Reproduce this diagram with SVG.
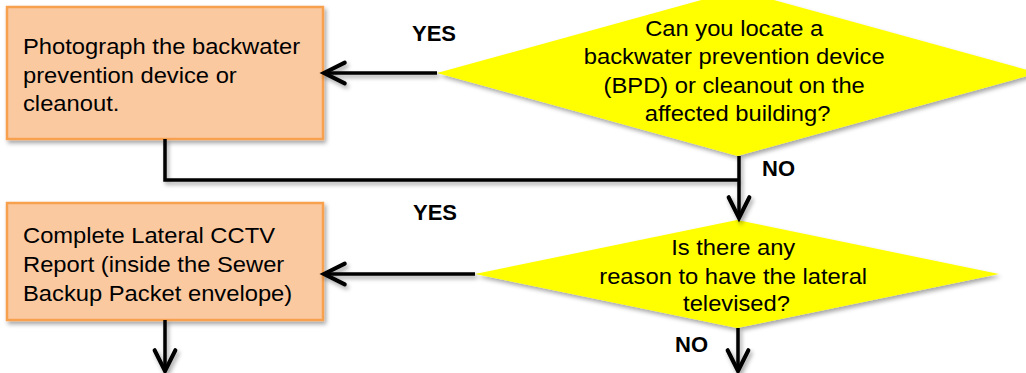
<svg xmlns="http://www.w3.org/2000/svg" width="1026" height="373" viewBox="0 0 1026 373">
  <defs>
    <filter id="shadow" x="-10%" y="-10%" width="130%" height="140%">
      <feDropShadow dx="2" dy="3" stdDeviation="2" flood-color="#000" flood-opacity="0.35"/>
    </filter>
    <marker id="arrow" markerUnits="userSpaceOnUse" markerWidth="30" markerHeight="30" viewBox="-22 -13 26 26" refX="0" refY="0" orient="auto">
      <path d="M -18 -9 L 0 0 L -18 9" fill="none" stroke="#000" stroke-width="3.5" stroke-linecap="round" stroke-linejoin="miter"/>
    </marker>
    <style>
      .box { fill: #FBC9A0; stroke: #F7A150; stroke-width: 2.5; }
      .dec { fill: #FFFF00; stroke: none; }
      .txt { font-family: "Liberation Sans", Arial, sans-serif; font-size: 22px; fill: #000; }
      .mid { text-anchor: middle; }
      .lbl { font-family: "Liberation Sans", Arial, sans-serif; font-size: 22px; font-weight: bold; fill: #000; }
      .con { fill: none; stroke: #000; stroke-width: 3.5; stroke-linejoin: miter; }
    </style>
  </defs>

  <!-- process: photograph -->
  <g id="photo">
    <rect class="box" x="7" y="7" width="316" height="132" filter="url(#shadow)"/>
    <text class="txt" transform="translate(23 0) scale(1.08 1)">
      <tspan x="0" y="54.5">Photograph the backwater</tspan>
      <tspan x="0" y="83">prevention device or</tspan>
      <tspan x="0" y="111.5">cleanout.</tspan>
    </text>
  </g>

  <!-- decision: BPD / cleanout -->
  <g id="locate">
    <polygon class="dec" points="737.5,-10 1038,73 737.5,156 437,73" filter="url(#shadow)"/>
    <text class="txt mid" transform="translate(737.5 0) scale(1.08 1)">
      <tspan x="0" y="36">Can you locate a</tspan>
      <tspan x="0" y="64.5">backwater prevention device</tspan>
      <tspan x="0" y="93">(BPD) or cleanout on the</tspan>
      <tspan x="0" y="121">affected building?</tspan>
    </text>
  </g>

  <!-- process: CCTV report -->
  <g id="cctv">
    <rect class="box" x="7" y="203" width="316" height="117" filter="url(#shadow)"/>
    <text class="txt" transform="translate(23 0) scale(1.08 1)">
      <tspan x="0" y="243.5">Complete Lateral CCTV</tspan>
      <tspan x="0" y="272.5">Report (inside the Sewer</tspan>
      <tspan x="0" y="301">Backup Packet envelope)</tspan>
    </text>
  </g>

  <!-- decision: televise lateral -->
  <g id="televise">
    <polygon class="dec" points="737,220 999,274 737,328 475,274" filter="url(#shadow)"/>
    <text class="txt mid" transform="translate(736.5 0) scale(1.08 1)">
      <tspan x="0" y="255">Is there any</tspan>
      <tspan x="0" y="284">reason to have the lateral</tspan>
      <tspan x="0" y="311.5">televised?</tspan>
    </text>
  </g>

  <!-- connectors -->
  <g id="connectors" filter="url(#shadow)">
    <line class="con" x1="437" y1="73" x2="324" y2="73" marker-end="url(#arrow)"/>
    <polyline class="con" points="165,139 165,180 739,180"/>
    <line class="con" x1="739" y1="156" x2="739" y2="218" marker-end="url(#arrow)"/>
    <line class="con" x1="475" y1="274" x2="324" y2="274" marker-end="url(#arrow)"/>
    <line class="con" x1="165" y1="320" x2="165" y2="371" marker-end="url(#arrow)"/>
    <line class="con" x1="738" y1="328" x2="738" y2="371" marker-end="url(#arrow)"/>
  </g>

  <!-- branch labels -->
  <g id="labels">
    <text class="lbl" x="412" y="41">YES</text>
    <text class="lbl" x="762" y="176">NO</text>
    <text class="lbl" x="413" y="220">YES</text>
    <text class="lbl" x="675" y="352">NO</text>
  </g>
</svg>
